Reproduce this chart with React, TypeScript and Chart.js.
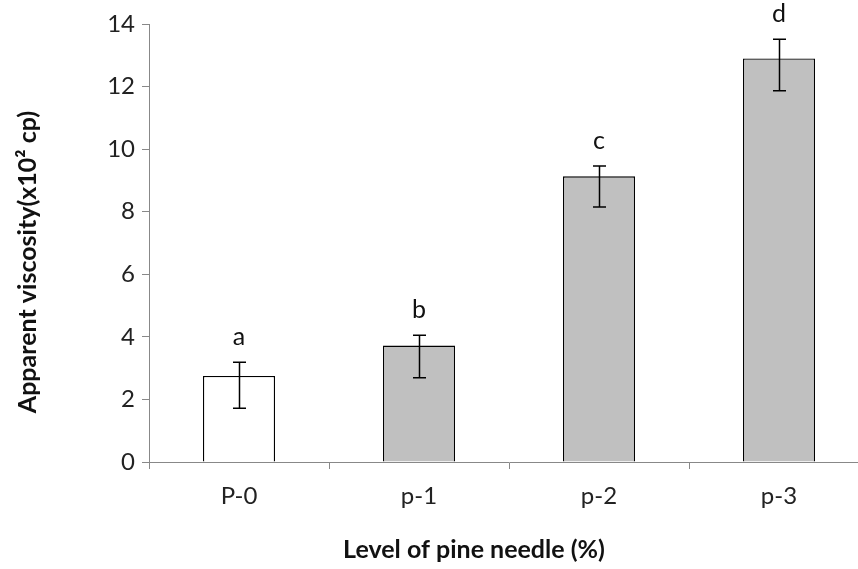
import React, { useEffect, useRef } from "react";
import { Chart, registerables } from "chart.js";

Chart.register(...registerables);

const categories = ["P-0", "p-1", "p-2", "p-3"];
const means = [2.75, 3.72, 9.13, 12.9];
const errUpper = [3.19, 4.05, 9.46, 13.51];
const errLower = [1.72, 2.69, 8.15, 11.87];
const letters = ["a", "b", "c", "d"];
const barColors = ["#ffffff", "#c0c0c0", "#c0c0c0", "#c0c0c0"];
const yTitle = "Apparent viscosity(x10\u00b2 cp)";
const xTitle = "Level of pine needle (%)";

const FONT = "Lato, 'Open Sans', sans-serif";

const overlay = {
  id: "overlay",
  afterDatasetsDraw(chart: any) {
    const ctx = chart.ctx;
    const meta = chart.getDatasetMeta(0);
    const y = chart.scales.y;
    ctx.save();
    ctx.strokeStyle = "#000";
    ctx.lineWidth = 1.5;
    meta.data.forEach((bar: any, i: number) => {
      const x = Math.round(bar.x) + 0.5;
      const yt = y.getPixelForValue(errUpper[i]);
      const yb = y.getPixelForValue(errLower[i]);
      ctx.beginPath();
      ctx.moveTo(x, yt);
      ctx.lineTo(x, yb);
      ctx.moveTo(x - 6.5, yt);
      ctx.lineTo(x + 6.5, yt);
      ctx.moveTo(x - 6.5, yb);
      ctx.lineTo(x + 6.5, yb);
      ctx.stroke();
      ctx.fillStyle = "#111";
      ctx.font = `25px ${FONT}`;
      ctx.textAlign = "center";
      ctx.textBaseline = "middle";
      ctx.fillText(letters[i], bar.x, yt - 25);
    });
    // titles
    ctx.fillStyle = "#111";
    ctx.font = `bold 25px ${FONT}`;
    ctx.textAlign = "center";
    ctx.textBaseline = "middle";
    ctx.fillText(xTitle, 474, 550);
    ctx.translate(28, 262);
    ctx.rotate(-Math.PI / 2);
    ctx.fillText(yTitle, 0, 0);
    ctx.restore();
  },
};

export default function App() {
  const ref = useRef<HTMLCanvasElement>(null);
  useEffect(() => {
    if (!ref.current) return;
    const chart = new Chart(ref.current, {
      type: "bar",
      data: {
        labels: categories,
        datasets: [
          {
            data: means,
            backgroundColor: barColors,
            borderColor: "#000",
            borderWidth: 1.3,
            barPercentage: 0.4,
            categoryPercentage: 1,
          },
        ],
      },
      options: {
        responsive: false,
        animation: false,
        layout: { padding: { left: 0, right: 11, top: 24, bottom: 0 } },
        plugins: { legend: { display: false }, tooltip: { enabled: false } },
        scales: {
          x: {
            offset: true,
            grid: {
              offset: true,
              drawOnChartArea: false,
              drawTicks: true,
              tickLength: 7,
              color: "#888",
            },
            border: { color: "#888", width: 1 },
            ticks: { font: { family: FONT, size: 24 }, color: "#222", padding: 13 },
            afterFit: (s: any) => {
              s.height = 107;
            },
          },
          y: {
            min: 0,
            max: 14,
            ticks: { stepSize: 2, font: { family: FONT, size: 24 }, color: "#222", padding: 7 },
            grid: {
              drawOnChartArea: false,
              drawTicks: true,
              tickLength: 7,
              color: "#888",
            },
            border: { color: "#888", width: 1 },
            afterFit: (s: any) => {
              s.width = 149;
            },
          },
        },
      },
      plugins: [overlay],
    });
    return () => chart.destroy();
  }, []);
  return (
    <div
      style={{
        position: "fixed",
        left: 0,
        top: 0,
        width: 858,
        height: 569,
        overflow: "hidden",
        background: "#fff",
      }}
    >
      <canvas ref={ref} width={880} height={569} />
    </div>
  );
}
